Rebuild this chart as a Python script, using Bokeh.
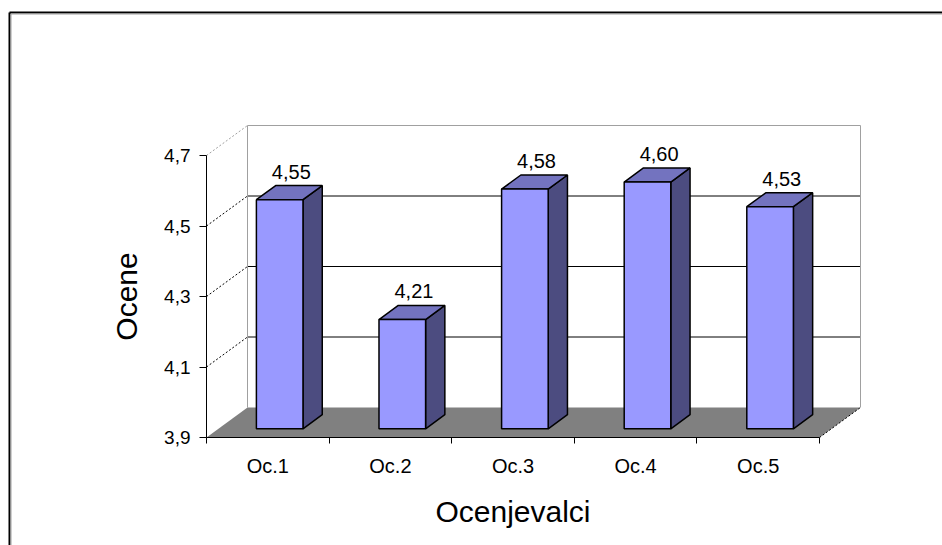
from bokeh.plotting import figure
from bokeh.models import (LinearAxis, FixedTicker, CustomJSTickFormatter, Range1d,
                          ColumnDataSource)
from bokeh.core.properties import value
from bokeh.embed import file_html
from bokeh.resources import INLINE

# ---------------- data ----------------
categories = ["Oc.1", "Oc.2", "Oc.3", "Oc.4", "Oc.5"]
scores = [4.55, 4.21, 4.58, 4.60, 4.53]
score_labels = ["4,55", "4,21", "4,58", "4,60", "4,53"]
y_ticks = [3.9, 4.1, 4.3, 4.5, 4.7]
y_title = "Ocene"
x_title = "Ocenjevalci"

# ---------------- layout ----------------
W, H = 942, 545
ORIGIN_X, ORIGIN_Y = 206, 437      # pixel position of (0, Y_MIN)
PX_PER_CAT = 122.6
PX_PER_UNIT = 352.5
Y_MIN, Y_MAX = 3.9, 4.7
DX = 41 / PX_PER_CAT               # depth vector in data units
DY = 30 / PX_PER_UNIT
F0, F1 = 0.29, 0.76                # bar front/back depth fractions
HW = 0.19                          # bar half-width in category units
N = len(categories)
FONT = value("Liberation Sans")

def px_x(px):
    return (px - ORIGIN_X) / PX_PER_CAT

def px_y(py):
    return Y_MIN + (ORIGIN_Y - py) / PX_PER_UNIT

x_start, x_end = px_x(0), px_x(W)
y_start, y_end = px_y(H), px_y(0)

p = figure(width=W, height=H, x_range=Range1d(x_start, x_end),
           y_range=Range1d(y_start, y_end), x_axis_type=None, y_axis_type=None,
           toolbar_location=None, output_backend="svg", min_border=0)
p.title.visible = False
p.outline_line_color = None
p.background_fill_color = "white"
p.border_fill_color = "white"
p.grid.visible = False

GRAY = "#A0A0A0"

# outer chart border
p.segment(x0=[px_x(9), px_x(9)], y0=[y_start, px_y(12)],
          x1=[px_x(9), x_end], y1=[px_y(12), px_y(12)],
          line_color="black", line_width=2)
p.segment(x0=[px_x(10.5), px_x(10.5)], y0=[y_start, px_y(13.5)],
          x1=[px_x(10.5), x_end], y1=[px_y(13.5), px_y(13.5)],
          line_color=GRAY, line_width=1)

# back wall gridlines
inner = [t for t in y_ticks if Y_MIN < t < Y_MAX]
p.segment(x0=[DX] * len(inner), y0=[t + DY for t in inner],
          x1=[N + DX] * len(inner), y1=[t + DY for t in inner],
          line_color="black", line_width=1)
# back wall edges (gray)
p.segment(x0=[DX, DX, N + DX], y0=[Y_MIN + DY, Y_MAX + DY, Y_MIN + DY],
          x1=[DX, N + DX, N + DX], y1=[Y_MAX + DY, Y_MAX + DY, Y_MAX + DY],
          line_color=GRAY, line_width=1)
# side-wall diagonals
p.segment(x0=[0] * len(inner), y0=inner, x1=[DX] * len(inner),
          y1=[t + DY for t in inner], line_color="black", line_width=1,
          line_dash="2 2")
p.segment(x0=[0], y0=[Y_MAX], x1=[DX], y1=[Y_MAX + DY], line_color=GRAY,
          line_width=1, line_dash="2 2")

# floor
p.patch([0, N, N + DX, DX], [Y_MIN, Y_MIN, Y_MIN + DY, Y_MIN + DY],
        fill_color="#808080", line_color=None)
p.segment(x0=[N], y0=[Y_MIN], x1=[N + DX], y1=[Y_MIN + DY],
          line_color="black", line_width=1, line_dash="2 2")

# bars
fx, fy, sx, sy, tx, ty = [], [], [], [], [], []
for i, v in enumerate(scores):
    c = i + 0.5
    l0, r0 = c - HW + F0 * DX, c + HW + F0 * DX
    l1, r1 = c - HW + F1 * DX, c + HW + F1 * DX
    b0, b1 = Y_MIN + F0 * DY, Y_MIN + F1 * DY
    t0, t1 = v + F0 * DY, v + F1 * DY
    fx.append([l0, r0, r0, l0]); fy.append([b0, b0, t0, t0])
    sx.append([r0, r1, r1, r0]); sy.append([b0, b1, t1, t0])
    tx.append([l0, l1, r1, r0]); ty.append([t0, t1, t1, t0])

p.patches(sx, sy, fill_color="#4C4C80", line_color="black", line_width=1.5)
p.patches(tx, ty, fill_color="#7373BF", line_color="black", line_width=1.5)
p.patches(fx, fy, fill_color="#9999FF", line_color="black", line_width=1.5)

lab = ColumnDataSource(dict(
    x=[i + 0.5 + 0.525 * DX for i in range(N)],
    y=[v + F1 * DY for v in scores],
    t=score_labels))
p.text(x="x", y="y", text="t", source=lab, text_align="center",
       text_baseline="alphabetic", y_offset=-14, x_offset=2,
       text_font=FONT, text_font_size="20px", text_color="black")

# axes
yaxis = LinearAxis(fixed_location=0, bounds=(Y_MIN, Y_MAX),
                   ticker=FixedTicker(ticks=y_ticks),
                   formatter=CustomJSTickFormatter(
                       code="return tick.toFixed(1).replace('.', ',');"),
                   axis_label=y_title)
yaxis.axis_line_color = "black"
yaxis.major_tick_line_color = "black"
yaxis.major_tick_in = 0
yaxis.major_tick_out = 7
yaxis.minor_tick_line_color = None
yaxis.major_label_standoff = 9
yaxis.major_label_text_font = "Liberation Sans"
yaxis.major_label_text_font_size = "19px"
yaxis.major_label_text_color = "black"
yaxis.axis_label_text_font = "Liberation Sans"
yaxis.axis_label_text_font_size = "30px"
yaxis.axis_label_text_font_style = "normal"
yaxis.axis_label_text_color = "black"
yaxis.axis_label_standoff = 18
p.add_layout(yaxis, "left")

xaxis = LinearAxis(fixed_location=Y_MIN, bounds=(0, N),
                   ticker=FixedTicker(ticks=[i + 0.5 for i in range(N)],
                                      minor_ticks=list(range(N + 1))),
                   formatter=CustomJSTickFormatter(
                       args=dict(labels=categories),
                       code="return labels[Math.round(tick - 0.5)];"),
                   axis_label=x_title)
xaxis.axis_line_color = "black"
xaxis.major_tick_in = 0
xaxis.major_tick_out = 0
xaxis.major_tick_line_color = None
xaxis.minor_tick_in = 0
xaxis.minor_tick_out = 6
xaxis.minor_tick_line_color = "black"
xaxis.major_label_standoff = 11
xaxis.major_label_text_font = "Liberation Sans"
xaxis.major_label_text_font_size = "20px"
xaxis.major_label_text_color = "black"
xaxis.axis_label_text_font = "Liberation Sans"
xaxis.axis_label_text_font_size = "30px"
xaxis.axis_label_text_font_style = "normal"
xaxis.axis_label_text_color = "black"
xaxis.axis_label_standoff = 15
p.add_layout(xaxis, "below")

open("out.html", "w").write(file_html(p, INLINE))
